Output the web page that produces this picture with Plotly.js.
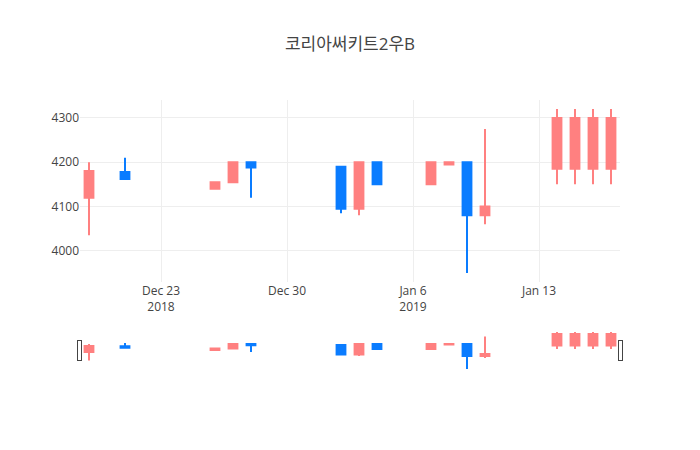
<!DOCTYPE html>
<html>
<head>
<meta charset="utf-8">
<script src="https://cdn.plot.ly/plotly-3.0.1.min.js"></script>
<style>html,body{margin:0;padding:0;background:#fff;}</style>
</head>
<body>
<div id="chart" style="width:700px;height:450px;"></div>
<script>
var dates = ["2018-12-19","2018-12-21","2018-12-26","2018-12-27","2018-12-28",
             "2019-01-02","2019-01-03","2019-01-04","2019-01-07","2019-01-08",
             "2019-01-09","2019-01-10","2019-01-14","2019-01-15","2019-01-16","2019-01-17"];
var openVals  = [4120, 4178, 4140, 4155, 4200, 4190, 4095, 4200, 4150, 4195, 4200, 4080, 4185, 4185, 4185, 4185];
var highVals  = [4200, 4210, 4155, 4200, 4200, 4190, 4200, 4200, 4200, 4200, 4200, 4275, 4320, 4320, 4320, 4320];
var lowVals   = [4035, 4160, 4140, 4155, 4120, 4085, 4080, 4150, 4150, 4195, 3950, 4060, 4150, 4150, 4150, 4150];
var closeVals = [4180, 4162, 4155, 4200, 4188, 4095, 4200, 4150, 4200, 4200, 4080, 4100, 4300, 4300, 4300, 4300];

var trace = {
  type: 'candlestick',
  x: dates,
  open: openVals,
  high: highVals,
  low: lowVals,
  close: closeVals,
  increasing: {line: {color: '#FF8080'}, fillcolor: '#FF8080'},
  decreasing: {line: {color: '#0A7CFF'}, fillcolor: '#0A7CFF'}
};

var layout = {
  width: 700,
  height: 450,
  title: {text: '코리아써키트2우B', font: {family: '"Open Sans", "Noto Sans CJK KR", sans-serif', size: 17, color: '#444'}},
  font: {family: '"Open Sans", "Noto Sans CJK KR", sans-serif'},
  xaxis: {rangeslider: {visible: true}},
  yaxis: {},
  showlegend: false,
  paper_bgcolor: '#fff',
  plot_bgcolor: '#fff'
};

Plotly.newPlot('chart', [trace], layout, {displayModeBar: false});
</script>
</body>
</html>
